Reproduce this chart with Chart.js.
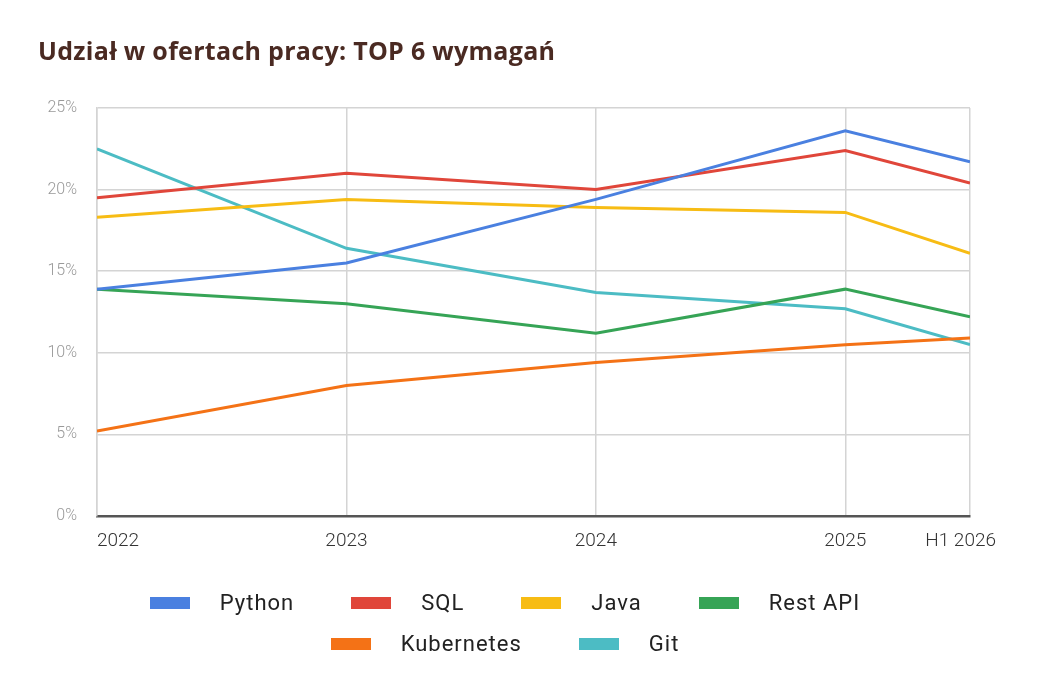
<!DOCTYPE html>
<html lang="pl">
<head>
    <meta charset="UTF-8">
    <title>Udział w ofertach pracy</title>
    <script src="https://cdn.jsdelivr.net/npm/chart.js"></script>
    <style>
        body { margin: 0; background: #fff; }
        .wrap { position: relative; width: 1043px; height: 692px; }
        .wrap canvas { position: absolute; left: 0; top: 0; }
        .tytul { position: absolute; left: 38px; top: 33px; font: 700 25px "Open Sans", sans-serif; color: #4a2a22; letter-spacing: 0.3px; }
        .legenda { position: absolute; left: 0; width: 1010px; top: 582px; font: 400 22px Roboto, sans-serif; color: #222; letter-spacing: 1px; }
        .rzad { display: flex; justify-content: center; gap: 57px; height: 41px; align-items: center; }
        .poz { display: flex; align-items: center; }
        .kolor { width: 40px; height: 12px; margin-right: 30px; }
    </style>
</head>
<body>
    <div class="wrap">
        <canvas id="wykres" width="1043" height="692"></canvas>
        <div class="tytul">Udział w ofertach pracy: TOP 6 wymagań</div>
        <div class="legenda" id="legenda"></div>
    </div>

    <script>
        // okresy (2025.5 = pierwsza połowa 2026)
        const okresy = [2022, 2023, 2024, 2025, 2025.5];
        const etykietyX = ['2022', '2023', '2024', '2025', 'H1 2026'];
        const etykietyY = [0, 5, 10, 15, 20, 25];

        const python = [13.9, 15.5, 19.4, 23.6, 21.7];
        const sql = [19.5, 21.0, 20.0, 22.4, 20.4];
        const java = [18.3, 19.4, 18.9, 18.6, 16.1];
        const restApi = [13.9, 13.0, 11.2, 13.9, 12.2];
        const kubernetes = [5.2, 8.0, 9.4, 10.5, 10.9];
        const git = [22.5, 16.4, 13.7, 12.7, 10.5];

        const serie = [
            ['Python', python, '#4a80e0'],
            ['SQL', sql, '#e0463a'],
            ['Java', java, '#f7bc14'],
            ['Rest API', restApi, '#36a456'],
            ['Kubernetes', kubernetes, '#f47216'],
            ['Git', git, '#4cbcc4']
        ];

        const punkty = wartosci => wartosci.map((v, i) => ({ x: okresy[i], y: v }));

        const etykietyOsiX = {
            id: 'etykietyOsiX',
            afterDraw(chart) {
                const sc = chart.scales.x;
                const c = chart.ctx;
                c.save();
                c.font = '300 19px Roboto, sans-serif';
                c.fillStyle = '#333';
                c.textBaseline = 'middle';
                okresy.forEach((v, i) => {
                    let x = sc.getPixelForValue(v);
                    c.textAlign = 'center';
                    if (i === 0) c.textAlign = 'left';
                    if (i === okresy.length - 1) { c.textAlign = 'right'; x += 26; }
                    c.fillText(etykietyX[i], x, 541);
                });
                c.restore();
            }
        };

        const wykres = new Chart(document.getElementById('wykres'), {
            type: 'line',
            data: {
                datasets: serie.map(s => ({
                    label: s[0],
                    data: punkty(s[1]),
                    borderColor: s[2],
                    backgroundColor: s[2],
                    borderWidth: 3,
                    pointRadius: 0,
                    tension: 0
                }))
            },
            options: {
                responsive: false,
                animation: false,
                layout: { padding: { top: 108, left: 0, right: 73, bottom: 176 } },
                plugins: {
                    legend: { display: false },
                    tooltip: { enabled: false }
                },
                scales: {
                    x: {
                        type: 'linear',
                        min: okresy[0],
                        max: okresy[okresy.length - 1],
                        afterBuildTicks: s => { s.ticks = okresy.map(v => ({ value: v })); },
                        afterFit: s => { s.height = 0; },
                        ticks: { display: false },
                        grid: { color: '#d4d4d4', lineWidth: 1.5, drawTicks: false },
                        border: { color: '#555', width: 2.5 }
                    },
                    y: {
                        min: 0,
                        max: 25,
                        afterBuildTicks: s => { s.ticks = etykietyY.map(v => ({ value: v })); },
                        afterFit: s => { s.width = 97; },
                        ticks: {
                            callback: v => v + '%',
                            color: '#999',
                            padding: 20,
                            font: { family: 'Roboto', size: 16, weight: 300 }
                        },
                        grid: { color: '#d4d4d4', lineWidth: 1.5, drawTicks: false },
                        border: { color: '#d4d4d4', width: 1.5 }
                    }
                }
            },
            plugins: [etykietyOsiX]
        });

        // legenda w dwóch rzędach
        const legenda = document.getElementById('legenda');
        [[0, 1, 2, 3], [4, 5]].forEach(rzad => {
            const r = document.createElement('div');
            r.className = 'rzad';
            rzad.forEach(i => {
                const ds = wykres.data.datasets[i];
                const p = document.createElement('div');
                p.className = 'poz';
                p.innerHTML = '<span class="kolor" style="background:' + ds.borderColor + '"></span><span>' + ds.label + '</span>';
                r.appendChild(p);
            });
            legenda.appendChild(r);
        });
    </script>
</body>
</html>
